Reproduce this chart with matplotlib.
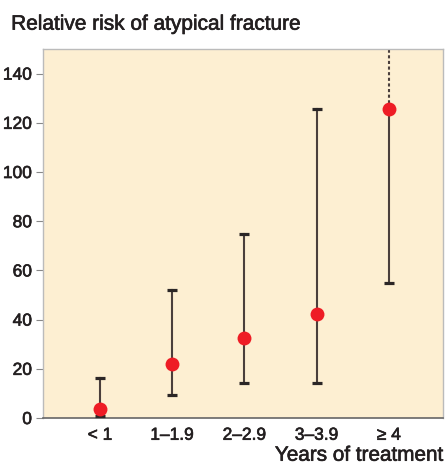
import matplotlib
matplotlib.use("Agg")
import matplotlib.pyplot as plt
import matplotlib.patheffects as pe

categories = ["< 1", "1\u20131.9", "2\u20132.9", "3\u20133.9", "\u2265 4"]
rr = [3.7, 21.9, 32.5, 42.2, 125.8]
lower = [0.8, 9.3, 14.2, 14.2, 54.8]
upper = [16.2, 52.0, 74.7, 125.8, None]  # None = open-ended upper bound
yticks = [0, 20, 40, 60, 80, 100, 120, 140]

plt.rcParams['font.family'] = ['Liberation Sans', 'DejaVu Sans']
txt_col = '#231f20'
thick = [pe.withStroke(linewidth=0.45, foreground=txt_col)]

fig = plt.figure(figsize=(4.46, 4.65), dpi=100)
ax = fig.add_axes([0.0964, 0.101, 0.8969, 0.7936])
ax.set_facecolor('#FDEFD2')

line_col = '#4a3f3c'
xs = list(range(len(categories)))
for x, y, lo, hi in zip(xs, rr, lower, upper):
    if hi is not None:
        ax.plot([x, x], [lo, hi], color=line_col, lw=1.5, zorder=2)
        ax.plot([x], [hi], marker='_', ms=7, mew=2.3, color='#2b2626', zorder=3)
    else:
        ax.plot([x, x], [lo, y], color=line_col, lw=1.5, zorder=2)
        ax.plot([x, x], [y, 200], color=line_col, lw=1.5, ls=(0, (1.5, 1.2)), zorder=2)
    ax.plot([x], [lo], marker='_', ms=7, mew=2.3, color='#2b2626', zorder=3)
ax.plot(xs, rr, 'o', color='#EE1C25', ms=10, mec='none', zorder=4)

ax.set_xlim(-0.79, 4.75)
ax.set_ylim(0, 150)
ax.set_yticks(yticks)
ax.set_xticks(xs)
ax.set_xticklabels(categories)
ax.tick_params(axis='x', length=0, pad=7, labelsize=12.5, colors=txt_col)
ax.tick_params(axis='y', length=5, width=0.8, color='#888888', labelsize=12.5, labelcolor=txt_col, pad=3)
for lab in ax.get_xticklabels() + ax.get_yticklabels():
    lab.set_path_effects(thick)
for s in ['top', 'right', 'left']:
    ax.spines[s].set_color('#bbbbbb')
    ax.spines[s].set_linewidth(1)
ax.spines['bottom'].set_color('#666666')
ax.spines['bottom'].set_linewidth(1.2)

fig.text(0.025, 0.948, "Relative risk of atypical fracture", fontsize=15,
         color=txt_col, ha='left', va='center', path_effects=thick)
fig.text(0.993, 0.021, "Years of treatment", fontsize=14.9, color=txt_col,
         ha='right', va='center', path_effects=thick)

fig.savefig("out.png", dpi=100)
